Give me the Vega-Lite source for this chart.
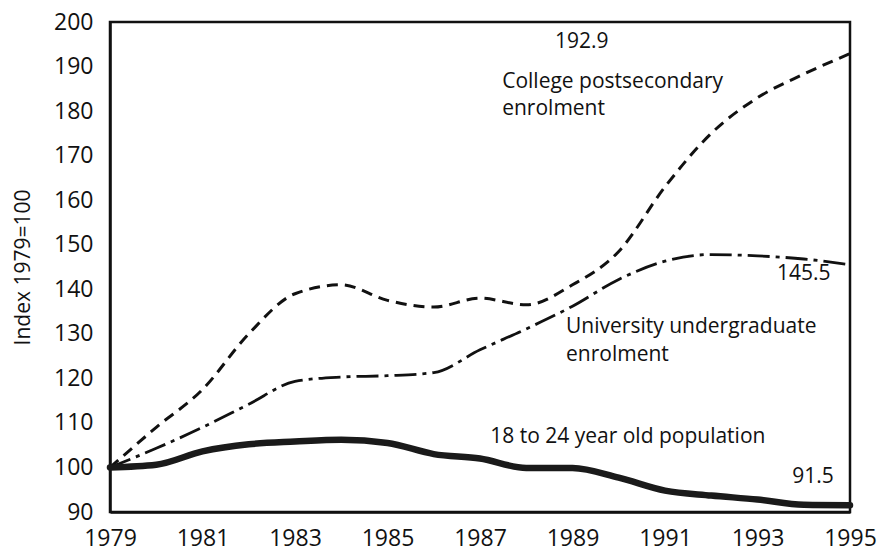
{
  "$schema": "https://vega.github.io/schema/vega-lite/v6.json",
  "width": 740,
  "height": 490,
  "autosize": {"type": "none"},
  "padding": {"left": 110, "top": 22, "right": 28, "bottom": 40},
  "background": "white",
  "config": {
    "view": {"stroke": "#111", "strokeWidth": 2.5},
    "font": "Open Sans",
    "axis": {
      "domainColor": "#111", "domainWidth": 2.5,
      "ticks": false,
      "labelColor": "#111", "labelFont": "Open Sans",
      "titleColor": "#111", "titleFontSize": 21, "titleFont": "Open Sans", "titleFontWeight": "normal",
      "grid": false
    }
  },
  "datasets": {
    "series": [
      {"series": "College", "year": 1979, "index": 100},
      {"series": "College", "year": 1980, "index": 109},
      {"series": "College", "year": 1981, "index": 117.5},
      {"series": "College", "year": 1982, "index": 130},
      {"series": "College", "year": 1983, "index": 139},
      {"series": "College", "year": 1984, "index": 141},
      {"series": "College", "year": 1985, "index": 137.5},
      {"series": "College", "year": 1986, "index": 136},
      {"series": "College", "year": 1987, "index": 138},
      {"series": "College", "year": 1988, "index": 136.5},
      {"series": "College", "year": 1989, "index": 141},
      {"series": "College", "year": 1990, "index": 148.5},
      {"series": "College", "year": 1991, "index": 163},
      {"series": "College", "year": 1992, "index": 175},
      {"series": "College", "year": 1993, "index": 183},
      {"series": "College", "year": 1994, "index": 188.3},
      {"series": "College", "year": 1995, "index": 192.9},
      {"series": "University", "year": 1979, "index": 100},
      {"series": "University", "year": 1980, "index": 104.3},
      {"series": "University", "year": 1981, "index": 109},
      {"series": "University", "year": 1982, "index": 114.2},
      {"series": "University", "year": 1983, "index": 119.3},
      {"series": "University", "year": 1984, "index": 120.3},
      {"series": "University", "year": 1985, "index": 120.6},
      {"series": "University", "year": 1986, "index": 121.3},
      {"series": "University", "year": 1987, "index": 126.4},
      {"series": "University", "year": 1988, "index": 131.1},
      {"series": "University", "year": 1989, "index": 136.2},
      {"series": "University", "year": 1990, "index": 142.2},
      {"series": "University", "year": 1991, "index": 146.3},
      {"series": "University", "year": 1992, "index": 147.8},
      {"series": "University", "year": 1993, "index": 147.5},
      {"series": "University", "year": 1994, "index": 146.8},
      {"series": "University", "year": 1995, "index": 145.5},
      {"series": "Population", "year": 1979, "index": 100},
      {"series": "Population", "year": 1980, "index": 100.6},
      {"series": "Population", "year": 1981, "index": 103.6},
      {"series": "Population", "year": 1982, "index": 105.2},
      {"series": "Population", "year": 1983, "index": 105.8},
      {"series": "Population", "year": 1984, "index": 106.2},
      {"series": "Population", "year": 1985, "index": 105.5},
      {"series": "Population", "year": 1986, "index": 103},
      {"series": "Population", "year": 1987, "index": 102},
      {"series": "Population", "year": 1988, "index": 99.9},
      {"series": "Population", "year": 1989, "index": 99.9},
      {"series": "Population", "year": 1990, "index": 97.7},
      {"series": "Population", "year": 1991, "index": 94.8},
      {"series": "Population", "year": 1992, "index": 93.7},
      {"series": "Population", "year": 1993, "index": 92.8},
      {"series": "Population", "year": 1994, "index": 91.6},
      {"series": "Population", "year": 1995, "index": 91.5}
    ],
    "labels": [
      {"label": "192.9", "year": 1988.62, "index": 195.5},
      {"label": "College postsecondary", "year": 1987.48, "index": 186.5},
      {"label": "enrolment", "year": 1987.48, "index": 180.5},
      {"label": "145.5", "year": 1993.42, "index": 143.4},
      {"label": "University undergraduate", "year": 1988.86, "index": 131.5},
      {"label": "enrolment", "year": 1988.86, "index": 125.2},
      {"label": "18 to 24 year old population", "year": 1987.22, "index": 106.8},
      {"label": "91.5", "year": 1993.75, "index": 97.9}
    ],
    "xticks": [
      {"year": 1980}, {"year": 1981}, {"year": 1982}, {"year": 1983}, {"year": 1984},
      {"year": 1985}, {"year": 1986}, {"year": 1987}, {"year": 1988}, {"year": 1989},
      {"year": 1990}, {"year": 1991}, {"year": 1992}, {"year": 1993}, {"year": 1994}
    ],
    "yticks": [
      {"index": 100}, {"index": 110}, {"index": 120}, {"index": 130}, {"index": 140},
      {"index": 150}, {"index": 160}, {"index": 170}, {"index": 180}, {"index": 190}
    ]
  },
  "encoding": {
    "x": {
      "field": "year", "type": "quantitative",
      "scale": {"domain": [1979, 1995], "nice": false, "zero": false},
      "axis": {
        "title": null,
        "values": [1979, 1981, 1983, 1985, 1987, 1989, 1991, 1993, 1995],
        "format": "d",
        "labelFlush": false,
        "labelOverlap": false,
        "labelPadding": 15,
        "labelFontSize": 23
      }
    },
    "y": {
      "field": "index", "type": "quantitative",
      "scale": {"domain": [90, 200], "nice": false, "zero": false},
      "axis": {
        "title": "Index 1979=100",
        "values": [90, 100, 110, 120, 130, 140, 150, 160, 170, 180, 190, 200],
        "labelFlush": false,
        "labelOverlap": false,
        "labelPadding": 17,
        "labelFontSize": 23,
        "titlePadding": 20
      }
    }
  },
  "layer": [
    {
      "data": {"name": "series"},
      "transform": [{"filter": "datum.series == 'College'"}],
      "mark": {"type": "line", "interpolate": "monotone", "color": "#111", "strokeWidth": 3, "strokeDash": [11, 7], "strokeCap": "butt"}
    },
    {
      "data": {"name": "series"},
      "transform": [{"filter": "datum.series == 'University'"}],
      "mark": {"type": "line", "interpolate": "monotone", "color": "#111", "strokeWidth": 2.8, "strokeDash": [22, 6, 4, 6], "strokeCap": "butt"}
    },
    {
      "data": {"name": "series"},
      "transform": [{"filter": "datum.series == 'Population'"}],
      "mark": {"type": "line", "interpolate": "monotone", "color": "#1a1a1a", "strokeWidth": 6.5, "strokeCap": "round", "strokeJoin": "round"}
    },
    {
      "data": {"name": "xticks"},
      "mark": {"type": "tick", "orient": "vertical", "color": "#111", "size": 11, "thickness": 2, "opacity": 1},
      "encoding": {
        "y": {"datum": 91.22}
      }
    },
    {
      "data": {"name": "yticks"},
      "mark": {"type": "tick", "orient": "horizontal", "color": "#111", "size": 11, "thickness": 2, "opacity": 1},
      "encoding": {
        "x": {"datum": 1979.12}
      }
    },
    {
      "data": {"name": "labels"},
      "mark": {"type": "text", "align": "left", "baseline": "middle", "fontSize": 21, "font": "Open Sans", "color": "#111"},
      "encoding": {
        "text": {"field": "label"}
      }
    }
  ]
}
